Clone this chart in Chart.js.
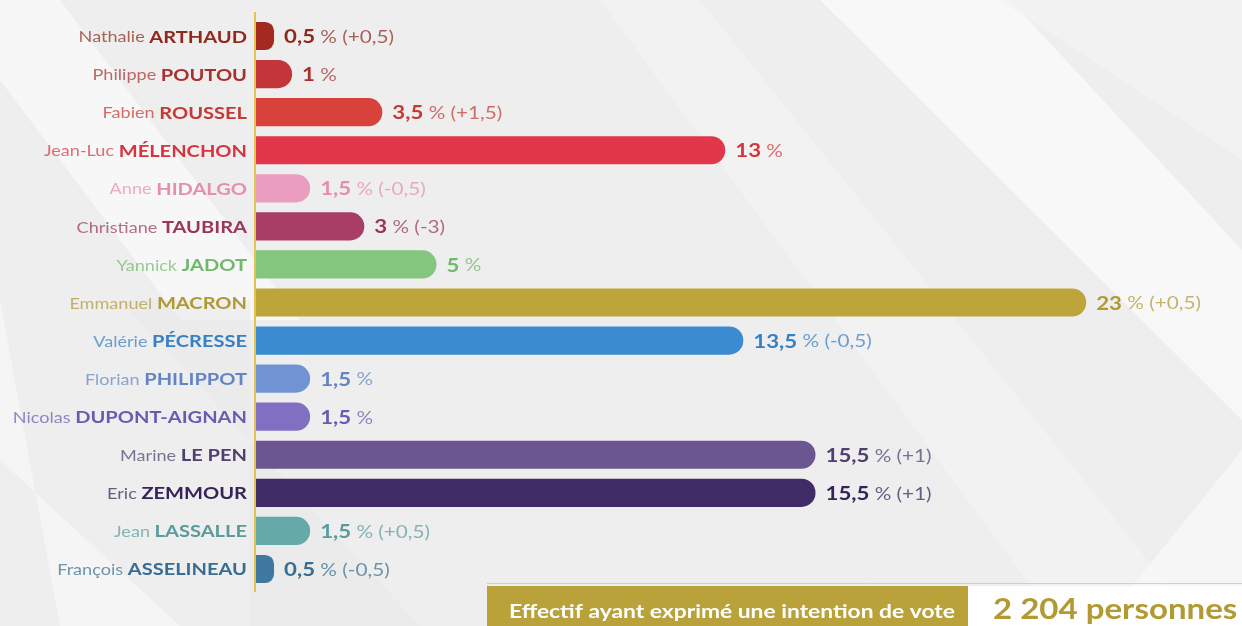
<!DOCTYPE html>
<html lang="fr">
<head>
  <meta charset="UTF-8">
  <title>Intentions de vote</title>
  <script src="https://cdn.jsdelivr.net/npm/chart.js"></script>
  <style>
    html, body { margin: 0; padding: 0; background: #efefef; }
    #wrap { width: 1242px; height: 626px; position: relative; }
  </style>
</head>
<body>

<div id="wrap">
  <canvas id="barChart" width="1242" height="626"></canvas>
</div>

<script>
  const firstNames = ['Nathalie', 'Philippe', 'Fabien', 'Jean-Luc', 'Anne', 'Christiane', 'Yannick', 'Emmanuel',
    'Valérie', 'Florian', 'Nicolas', 'Marine', 'Eric', 'Jean', 'François'];
  const lastNames = ['ARTHAUD', 'POUTOU', 'ROUSSEL', 'MÉLENCHON', 'HIDALGO', 'TAUBIRA', 'JADOT', 'MACRON',
    'PÉCRESSE', 'PHILIPPOT', 'DUPONT-AIGNAN', 'LE PEN', 'ZEMMOUR', 'LASSALLE', 'ASSELINEAU'];
  const scores = [0.5, 1, 3.5, 13, 1.5, 3, 5, 23, 13.5, 1.5, 1.5, 15.5, 15.5, 1.5, 0.5];
  const changes = ['+0,5', '', '+1,5', '', '-0,5', '-3', '', '+0,5', '-0,5', '', '', '+1', '+1', '+0,5', '-0,5'];
  const barColors = ['#a42a1f', '#c2363b', '#d8423b', '#e2374a', '#eb9dbf', '#a83d66', '#85c67e', '#bda53c',
    '#3b8bd1', '#7193d3', '#8170c2', '#6b5690', '#3f2b66', '#66a9a9', '#3f79a1'];
  const textColors = ['#8e2a1c', '#a8302f', '#c43a34', '#d8343f', '#e68db2', '#9a355c', '#72b86b', '#b09a34',
    '#3680c4', '#6485c4', '#6a5bb2', '#4f4070', '#35245a', '#5a9c9c', '#386d94'];
  const sampleLabel = 'Effectif ayant exprimé une intention de vote';
  const sampleValue = '2 204 personnes';

  const FONT = 'Lato, "Open Sans", sans-serif';

  // draw text squeezed/stretched horizontally, returns drawn width
  function drawText(c, text, x, y, font, sx, align) {
    c.font = font;
    const w = c.measureText(text).width * sx;
    const left = align === 'right' ? x - w : x;
    c.save();
    c.translate(left, y);
    c.scale(sx, 1);
    c.textAlign = 'left';
    c.fillText(text, 0, 0);
    c.restore();
    return w;
  }

  const bgPlugin = {
    id: 'bg',
    beforeDraw(chart) {
      const c = chart.ctx;
      const w = chart.width, h = chart.height;
      c.save();
      c.fillStyle = '#eeeeee';
      c.fillRect(0, 0, w, h);
      // soft diagonal bands
      const bands = [
        [[-60, 0], [60, 0], [300, 320], [180, 320], '#f7f7f7', 0.9],
        [[820, 0], [1010, 0], [1242, 250], [1242, 420], '#f8f8f8', 1],
        [[1000, 0], [1242, 0], [1242, 160], '#f3f3f3', 0.8],
        [[600, 0], [700, 0], [1200, 626], [1060, 626], '#f4f4f4', 0.7],
        [[0, 300], [0, 460], [180, 626], [60, 626], '#f6f6f6', 0.8],
        [[120, 300], [250, 300], [250, 626], [420, 626], '#e9e9e9', 0.6],
        [[1100, 626], [1242, 450], [1242, 626], '#f7f7f7', 0.8]
      ];
      bands.forEach(b => {
        const pts = b.filter(p => Array.isArray(p));
        c.globalAlpha = b[b.length - 1];
        c.fillStyle = b[b.length - 2];
        c.beginPath();
        c.moveTo(pts[0][0], pts[0][1]);
        pts.slice(1).forEach(p => c.lineTo(p[0], p[1]));
        c.closePath();
        c.fill();
      });
      c.restore();
    }
  };

  const labelPlugin = {
    id: 'labels',
    afterDatasetsDraw(chart) {
      const c = chart.ctx;
      const xs = chart.scales.x;
      const ys = chart.scales.y;
      const area = chart.chartArea;
      c.save();

      // gold axis line
      c.strokeStyle = '#e2c455';
      c.lineWidth = 2;
      c.beginPath();
      c.moveTo(area.left - 1, area.top - 5);
      c.lineTo(area.left - 1, area.bottom + 4);
      c.stroke();

      c.textBaseline = 'middle';
      scores.forEach((v, i) => {
        const y = ys.getPixelForValue(i) + 1;
        // name on the left: light first name + bold last name
        c.fillStyle = textColors[i];
        const lw = drawText(c, lastNames[i], area.left - 9, y, 'bold 17px ' + FONT, 1.18, 'right');
        c.globalAlpha = 0.72;
        drawText(c, firstNames[i] + ' ', area.left - 9 - lw, y, '16px ' + FONT, 1.13, 'right');
        c.globalAlpha = 1;

        // value after the bar
        let x = xs.getPixelForValue(v) + 10;
        const num = String(v).replace('.', ',');
        x += drawText(c, num, x, y, 'bold 19px ' + FONT, 1.17, 'left');
        c.globalAlpha = 0.72;
        const rest = ' %' + (changes[i] ? ' (' + changes[i] + ')' : '');
        drawText(c, rest, x, y, '18px ' + FONT, 1.15, 'left');
        c.globalAlpha = 1;
      });

      // sample size box
      c.strokeStyle = 'rgba(215,195,120,0.7)';
      c.lineWidth = 1;
      c.beginPath();
      c.moveTo(487, 583.5);
      c.lineTo(1242, 583.5);
      c.stroke();
      c.fillStyle = '#b9a23a';
      c.fillRect(487, 586, 481, 42);
      c.fillStyle = 'rgba(255,255,255,0.9)';
      c.fillRect(968, 586, 274, 42);
      c.fillStyle = '#ffffff';
      drawText(c, sampleLabel, 509, 612, 'bold 19px ' + FONT, 1.2, 'left');
      c.fillStyle = '#b29a33';
      drawText(c, sampleValue, 993, 610, 'bold 28px ' + FONT, 1.18, 'left');
      c.restore();
    }
  };

  const ctx = document.getElementById('barChart').getContext('2d');

  const config = {
    type: 'bar',
    data: {
      labels: lastNames,
      datasets: [{
        label: 'Intentions de vote',
        data: scores,
        backgroundColor: barColors,
        borderRadius: 14,
        borderSkipped: 'start',
        categoryPercentage: 1,
        barPercentage: 0.74,
      }],
    },
    options: {
      indexAxis: 'y',
      responsive: false,
      animation: false,
      layout: {
        padding: { left: 256, right: 15, top: 17, bottom: 38 },
      },
      plugins: {
        legend: { display: false },
        tooltip: { enabled: false },
      },
      scales: {
        x: {
          display: false,
          min: 0,
          max: 26.9,
        },
        y: {
          display: false,
        },
      },
    },
    plugins: [bgPlugin, labelPlugin],
  };

  new Chart(ctx, config);
</script>

</body>
</html>
